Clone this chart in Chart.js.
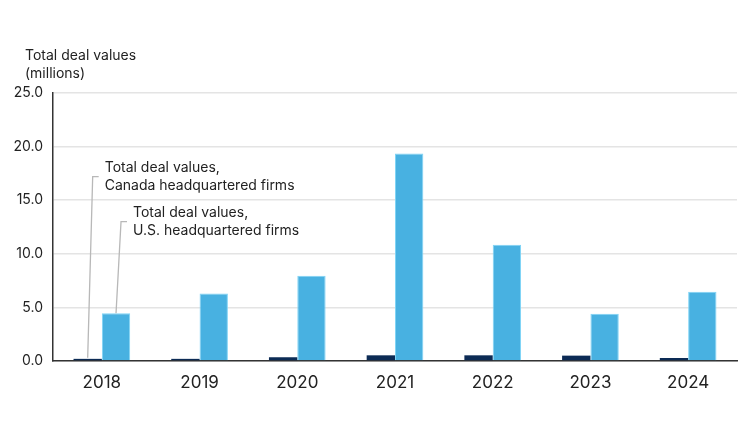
<!DOCTYPE html>
<html>
<head>
<meta charset="utf-8">
<script src="https://cdn.jsdelivr.net/npm/chart.js@4/dist/chart.umd.min.js"></script>
<style>
  html, body { margin: 0; padding: 0; background: #fff; }
  #wrap { width: 750px; height: 422px; position: relative; }
</style>
</head>
<body>
<div id="wrap"><canvas id="chart"></canvas></div>
<script>
// data
const years = ['2018', '2019', '2020', '2021', '2022', '2023', '2024']
const canadaValues = [0.2, 0.2, 0.35, 0.53, 0.53, 0.5, 0.28]
const usValues = [4.45, 6.3, 7.95, 19.35, 10.85, 4.4, 6.45]
const yTicks = [0, 5, 10, 15, 20, 25]

const axisTitle = ['Total deal values', '(millions)']
const canadaNote = ['Total deal values,', 'Canada headquartered firms']
const usNote = ['Total deal values,', 'U.S. headquartered firms']

const FONT = 'Inter, "Noto Sans", sans-serif'
const INK = '#222'

// leader lines + axis title, drawn after the bars
const notesPlugin = {
    id: 'notes',
    afterDatasetsDraw(chart) {
        const ctx = chart.ctx
        const y = chart.scales.y
        ctx.save()

        // axis title top left
        ctx.fillStyle = INK
        ctx.font = '14px ' + FONT
        ctx.textBaseline = 'middle'
        ctx.textAlign = 'left'
        ctx.fillText(axisTitle[0], 25, 56)
        ctx.fillText(axisTitle[1], 25, 74)

        const callout = (bar, topVal, elbowVal, lines) => {
            const x0 = bar.x
            const y0 = topVal
            const ey = y.getPixelForValue(elbowVal)
            ctx.strokeStyle = '#b8b8b8'
            ctx.lineWidth = 1.3
            ctx.beginPath()
            ctx.moveTo(x0, y0)
            ctx.lineTo(x0 + 5, ey)
            ctx.lineTo(x0 + 11, ey)
            ctx.stroke()
            ctx.fillStyle = INK
            ctx.font = '14px ' + FONT
            ctx.textAlign = 'left'
            ctx.textBaseline = 'middle'
            ctx.fillText(lines[0], x0 + 17, ey - 9)
            ctx.fillText(lines[1], x0 + 17, ey + 9)
        }

        const caBar = chart.getDatasetMeta(0).data[0]
        const usBar = chart.getDatasetMeta(1).data[0]
        callout(caBar, caBar.y - 1, 17.2, canadaNote)
        callout(usBar, usBar.y, 13.0, usNote)
        ctx.restore()
    }
}

new Chart(document.getElementById('chart'), {
    type: 'bar',
    data: {
        labels: years,
        datasets: [{
            label: 'Canada headquartered firms',
            data: canadaValues,
            backgroundColor: '#0c2b55',
            borderWidth: 0
        }, {
            label: 'U.S. headquartered firms',
            data: usValues,
            backgroundColor: '#48b1e1',
            borderColor: '#7fd4f6',
            borderWidth: 1
        }]
    },
    options: {
        responsive: true,
        maintainAspectRatio: false,
        animation: false,
        datasets: { bar: { barPercentage: 1, categoryPercentage: 0.58 } },
        layout: { padding: { top: 93, right: 13, bottom: 0, left: 0 } },
        plugins: {
            legend: { display: false },
            tooltip: { enabled: false }
        },
        scales: {
            x: {
                grid: { display: false, drawTicks: false },
                border: { color: '#333', width: 1.5 },
                ticks: { color: INK, font: { family: FONT, size: 17 }, padding: 12 },
                afterFit(s) { s.height = 61 }
            },
            y: {
                min: 0,
                max: 25,
                afterBuildTicks(s) { s.ticks = yTicks.map(v => ({ value: v })) },
                grid: { color: '#e4e4e4', lineWidth: 1.5, drawTicks: false },
                border: { color: '#333', width: 1.5 },
                ticks: {
                    color: INK,
                    font: { family: FONT, size: 14 },
                    padding: 10,
                    callback: v => v.toFixed(1)
                },
                afterFit(s) { s.width = 53 }
            }
        }
    },
    plugins: [notesPlugin]
})
</script>
</body>
</html>
